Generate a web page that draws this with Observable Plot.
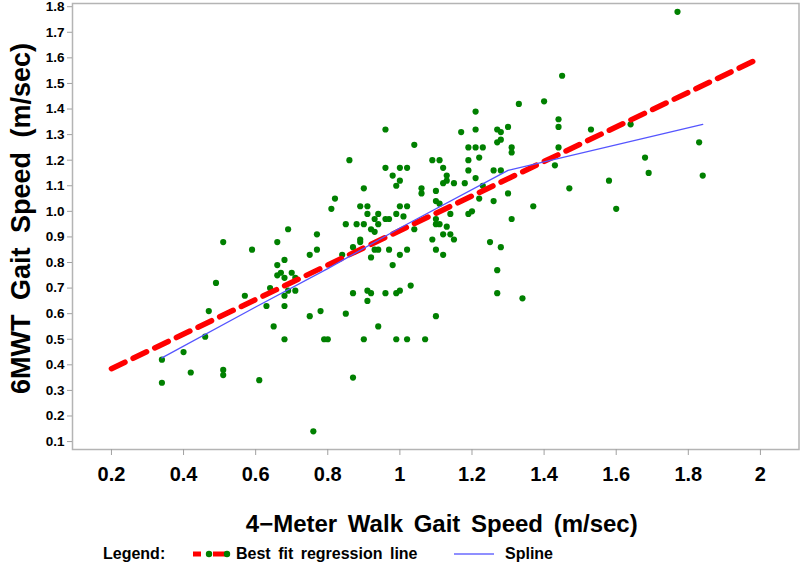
<!DOCTYPE html>
<html><head><meta charset="utf-8">
<script src="https://cdn.jsdelivr.net/npm/d3@7"></script>
<script src="https://cdn.jsdelivr.net/npm/@observablehq/plot@0.6"></script>
<style>
body{margin:0;background:#fff;font-family:"Liberation Sans",Arial,sans-serif;}
#chart{width:800px;}
#chart svg{display:block;}
#legend{position:relative;width:800px;height:27px;font-weight:bold;font-size:16px;color:#000;word-spacing:3px;}
#legend .t{position:absolute;top:7px;line-height:18px;white-space:nowrap;}
#legend svg{position:absolute;top:1px;}
</style></head><body>
<div id="chart"></div>
<div id="legend"></div>
<script>
// 4-Meter walk gait speed (m/sec)
const walk = [
0.34,0.34,0.40,0.42,0.46,0.47,0.49,0.51,0.51,0.51,0.57,0.59,0.61,0.63,0.64,0.65,0.66,0.66,0.66,0.67,
0.68,0.68,0.68,0.68,0.68,0.69,0.69,0.70,0.71,0.71,0.75,0.75,0.76,0.77,0.77,0.78,0.79,0.80,0.81,
0.82,0.84,0.85,0.85,0.86,0.87,0.87,0.87,0.88,0.89,0.89,0.89,0.90,0.90,0.90,0.91,0.91,0.91,0.92,0.92,
0.92,0.91,0.93,0.93,0.93,0.94,0.94,0.94,0.94,0.96,0.96,0.96,0.97,0.97,0.96,0.98,0.98,0.99,0.99,0.99,
0.99,1.00,1.00,1.00,1.00,1.00,1.01,1.02,1.02,1.02,1.02,1.03,1.04,1.04,1.06,1.06,1.07,
1.09,1.09,1.10,1.10,1.10,1.10,1.10,1.10,1.11,1.11,1.11,1.12,1.12,1.12,1.12,1.13,1.13,1.13,1.14,1.14,
1.15,1.15,1.17,
1.18,1.19,1.19,1.19,1.19,1.20,1.21,1.21,1.21,1.21,1.22,1.22,1.23,1.23,1.25,1.26,1.26,1.27,1.27,1.27,
1.27,1.28,1.28,1.28,1.28,1.30,1.30,1.31,1.31,1.31,1.33,1.34,1.37,1.40,1.43,1.44,1.44,1.44,1.45,1.47,
1.53,1.58,1.60,1.64,1.68,1.69,1.77,1.83,1.84
];
// 6MWT gait speed (m/sec)
const mwt = [
0.42,0.33,0.45,0.37,0.51,0.61,0.72,0.88,0.38,0.36,0.67,0.85,0.34,0.63,0.70,0.55,0.88,0.79,0.75,0.76,
0.81,0.74,0.67,0.63,0.50,0.93,0.69,0.76,0.74,0.69,0.83,0.59,0.14,0.91,0.85,0.61,0.50,0.50,1.01,
1.05,0.83,0.95,0.60,1.20,0.86,0.68,0.35,0.95,0.89,0.88,1.02,1.09,0.95,0.50,1.02,0.99,0.69,0.93,0.82,
0.68,0.65,0.97,0.92,0.85,0.85,0.99,0.95,0.55,1.32,1.17,0.97,0.97,0.85,0.68,1.14,0.79,1.10,0.99,0.68,
0.50,1.17,1.12,1.02,0.83,0.69,0.98,1.17,1.02,0.85,0.50,0.71,1.26,0.93,1.09,1.07,0.50,
1.20,0.89,1.08,0.97,0.95,0.85,1.04,0.59,1.20,0.95,1.03,1.17,1.11,0.91,0.83,1.14,1.12,0.94,0.91,0.99,
1.11,0.89,1.31,
1.11,1.25,1.20,1.16,0.99,1.00,1.39,1.32,1.25,1.13,1.21,1.05,1.25,1.10,0.88,1.16,1.04,1.32,1.27,0.77,
0.68,1.31,1.28,1.16,0.86,1.33,1.07,1.25,1.23,0.97,1.42,0.66,1.02,1.43,1.18,1.36,1.33,1.25,1.53,1.09,
1.32,1.12,1.01,1.34,1.21,1.15,1.78,1.27,1.14
];
// best-fit regression line end points
const fitX = [0.2, 2.0];
const fitY = [0.385, 1.60];
// spline
const splineX = [0.34, 0.60, 0.80, 1.00, 1.30, 1.84];
const splineY = [0.427, 0.626, 0.776, 0.935, 1.16, 1.34];
// ticks
const xTicks = [0.2, 0.4, 0.6, 0.8, 1, 1.2, 1.4, 1.6, 1.8, 2];
const yTicks = [0.1,0.2,0.3,0.4,0.5,0.6,0.7,0.8,0.9,1.0,1.1,1.2,1.3,1.4,1.5,1.6,1.7,1.8];
const xTitle = "4\u2212Meter Walk Gait Speed (m/sec)";
const yTitle = "6MWT Gait Speed (m/sec)";
const legendTitle = "Legend:";
const legendLabels = ["Best fit regression line", "Spline"];

const points = walk.map((x, i) => ({x, y: mwt[i]}));
const fit = fitX.map((x, i) => ({x, y: fitY[i]}));
const spline = splineX.map((x, i) => ({x, y: splineY[i]}));

const chart = Plot.plot({
  width: 800,
  height: 538,
  marginLeft: 72,
  marginRight: 1.5,
  marginTop: 3,
  marginBottom: 89,
  style: {fontFamily: "'Liberation Sans', Arial, sans-serif", background: "#fff"},
  x: {domain: [0.092, 2.107]},
  y: {domain: [0.069, 1.8125]},
  marks: [
    Plot.frame({stroke: "#b4b4b4", strokeWidth: 1.5}),
    Plot.axisX({ticks: xTicks, tickSize: 6, tickPadding: 11, tickFormat: d => String(d),
      stroke: "#a0a0a0", fill: "#000", fontSize: 20, fontWeight: "bold", label: null}),
    Plot.axisY({ticks: yTicks, tickSize: 5, tickPadding: 3, tickFormat: d3.format(".1f"),
      stroke: "#a0a0a0", fill: "#000", fontSize: 13.5, fontWeight: "bold", label: null}),
    Plot.text([xTitle], {frameAnchor: "bottom", dy: 82, dx: 6, fontSize: 24, fontWeight: "bold", fill: "#000"}),
    Plot.text([yTitle], {frameAnchor: "left", textAnchor: "middle", dx: -51, dy: -8, rotate: -90,
      fontSize: 27, fontWeight: "bold", fill: "#000"}),
    Plot.dot(points, {x: "x", y: "y", r: 3.1, fill: "#008000", stroke: "none"}),
    Plot.line(fit, {x: "x", y: "y", stroke: "#ff0000", strokeWidth: 5.5, strokeDasharray: "15,9"}),
    Plot.line(spline, {x: "x", y: "y", stroke: "#5555ff", strokeWidth: 1.3})
  ]
});
document.getElementById("chart").appendChild(chart);
// wider word spacing in the axis titles, as in the reference
chart.querySelectorAll("text").forEach(t => {
  if (t.textContent === xTitle) t.setAttribute("word-spacing", "4");
  if (t.textContent === yTitle) t.setAttribute("word-spacing", "7");
});

// legend
const lg = document.getElementById("legend");
function addText(txt, left) {
  const s = document.createElement("span");
  s.className = "t"; s.textContent = txt; s.style.left = left + "px";
  lg.appendChild(s);
}
addText(legendTitle, 103);
const ns = "http://www.w3.org/2000/svg";
const sym = document.createElementNS(ns, "svg");
sym.setAttribute("width", 40); sym.setAttribute("height", 27);
sym.style.left = "191px";
sym.innerHTML = '<line x1="2" y1="15" x2="10" y2="15" stroke="#ff0000" stroke-width="5"/>' +
  '<line x1="22" y1="15" x2="35" y2="15" stroke="#ff0000" stroke-width="5"/>' +
  '<circle cx="18" cy="15" r="3.2" fill="#008000"/><circle cx="36" cy="15" r="3.2" fill="#008000"/>';
lg.appendChild(sym);
addText(legendLabels[0], 236);
const sym2 = document.createElementNS(ns, "svg");
sym2.setAttribute("width", 42); sym2.setAttribute("height", 27);
sym2.style.left = "454px";
sym2.innerHTML = '<line x1="0" y1="15" x2="40" y2="15" stroke="#6a6aff" stroke-width="1.5"/>';
lg.appendChild(sym2);
addText(legendLabels[1], 505);
</script>
</body></html>
